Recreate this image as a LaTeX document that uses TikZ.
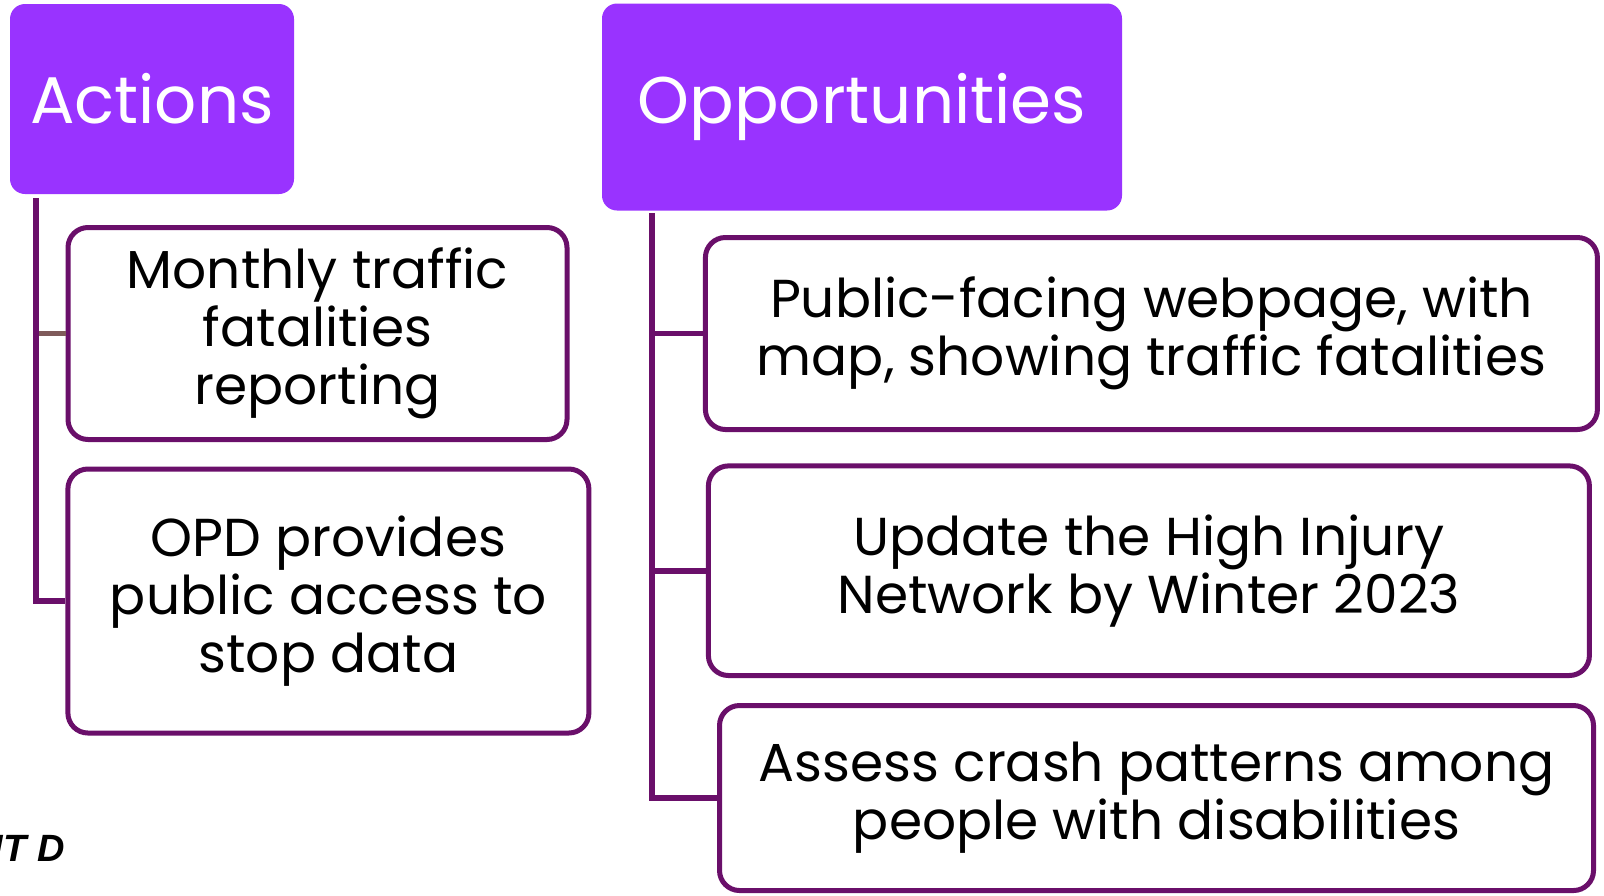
\documentclass[tikz,border=0pt]{standalone}
\usepackage{fontspec}
\setmainfont{Poppins}
\newfontfamily\tagfont{Liberation Sans}
\usetikzlibrary{positioning}
\definecolor{hdrPurple}{HTML}{9933FF}
\definecolor{boxPurple}{HTML}{6A0F6A}
\definecolor{stubBrown}{HTML}{7F5A5A}

\begin{document}
\begin{tikzpicture}[x=0.5pt,y=-0.5pt]
  \tikzset{
     hdr/.style = {
        rectangle, rounded corners=7.5pt,
        fill=hdrPurple, text=white, inner sep=0pt,
        font=\fontsize{33}{38}\selectfont
     },
     item/.style = {
        rectangle, rounded corners=10pt,
        draw=boxPurple, line width=2.5pt, fill=white,
        align=center, inner sep=0pt,
        font=\fontsize{26.7}{29}\selectfont
     },
     link/.style = {draw=boxPurple, line width=2.8pt}
  }
  \useasboundingbox (0,0) rectangle (1604,895);
  \node[hdr, minimum width=142pt, minimum height=95pt] (actions) at (152,99) {Actions};
  \node[hdr, minimum width=260pt, minimum height=103.5pt] (opps) at (862,107) {Opportunities};
  \node[item, minimum width=249.5pt, minimum height=106pt] (monthly) at (317.5,333.5)
     {Monthly traffic\\fatalities\\reporting};
  \node[item, minimum width=260.5pt, minimum height=132pt] (opd) at (328.4,601)
     {OPD provides\\public access to\\stop data};
  \node[item, minimum width=446pt, minimum height=96pt] (webpage) at (1151.4,333.5)
     {Public-facing webpage, with\\map, showing traffic fatalities};
  \node[item, minimum width=440.5pt, minimum height=104.8pt] (hin) at (1148.9,570.7)
     {Update the High Injury\\Network by Winter 2023};
  \node[item, minimum width=437pt, minimum height=92.5pt] (crash) at (1156.5,798)
     {Assess crash patterns among\\people with disabilities};
  \node[anchor=east, inner sep=0pt, font=\tagfont\bfseries\itshape\fontsize{19}{22}\selectfont] (tag) at (65,848) {IT D};
  \coordinate (leftTop) at (36,198);
  \coordinate (rightTop) at (651.7,213);
  \draw [draw=stubBrown, line width=2.8pt] (leftTop |- monthly.west) -- (monthly.west) ;
  \draw [link] (leftTop) |- (opd.west) ;
  \draw [link] (rightTop) |- (crash.west) ;
  \draw [link] (rightTop |- webpage.west) -- (webpage.west) ;
  \draw [link] (rightTop |- hin.west) -- (hin.west) ;
\end{tikzpicture}
\end{document}
